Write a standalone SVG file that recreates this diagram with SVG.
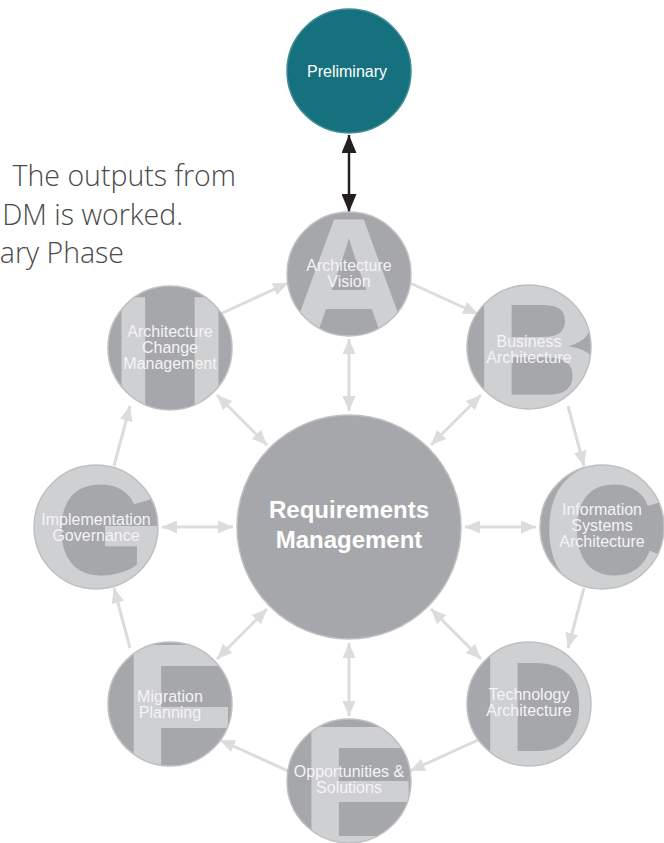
<svg xmlns="http://www.w3.org/2000/svg" width="664" height="843" viewBox="0 0 664 843">
<style>
.bg{fill:#a6a7aa}
.ring{fill:none;stroke:#bfc0c2;stroke-width:1.5}
.big{font-family:"Liberation Sans",Arial,sans-serif;font-weight:bold;fill:#cfd0d2;text-anchor:middle}
.lbl{font-family:"Liberation Sans",Arial,sans-serif;font-size:16px;fill:#f4f4f5;text-anchor:middle}
.rm{font-family:"Liberation Sans",Arial,sans-serif;font-size:24px;font-weight:bold;fill:#ffffff;text-anchor:middle}
.intro{font-family:"Open Sans","Liberation Sans",sans-serif;font-weight:300;font-size:28.5px;fill:#4a4a4a;text-anchor:end}
.con{stroke:#dcdcde;stroke-width:3;fill:none}
</style>
<defs>
<marker id="ah" markerUnits="userSpaceOnUse" markerWidth="15" markerHeight="13" viewBox="0 0 15 13" refX="15" refY="6.5" orient="auto-start-reverse"><path d="M0,0 L15,6.5 L0,13 z" fill="#dcdcde"/></marker>
<marker id="bh" markerUnits="userSpaceOnUse" markerWidth="18" markerHeight="15" viewBox="0 0 18 15" refX="18" refY="7.5" orient="auto-start-reverse"><path d="M0,0 L18,7.5 L0,15 z" fill="#231f20"/></marker>
<clipPath id="cA"><circle cx="349" cy="274" r="62"/></clipPath>
<clipPath id="cB"><circle cx="529" cy="347" r="62"/></clipPath>
<clipPath id="cC"><circle cx="602" cy="527" r="62"/></clipPath>
<clipPath id="cD"><circle cx="529" cy="704" r="62"/></clipPath>
<clipPath id="cE"><circle cx="349" cy="781" r="62"/></clipPath>
<clipPath id="cF"><circle cx="170" cy="704" r="62"/></clipPath>
<clipPath id="cG"><circle cx="96" cy="527" r="62"/></clipPath>
<clipPath id="cH"><circle cx="170" cy="348" r="62"/></clipPath>
</defs>

<g id="intro-text">
<text class="intro" x="236" y="186">The outputs from</text>
<text class="intro" x="183" y="225">DM is worked.</text>
<text class="intro" x="124" y="263">ary Phase</text>
</g>

<g id="connectors">
<line x1="349" y1="153" x2="349" y2="194" stroke="#231f20" stroke-width="2.5"/>
<line x1="349" y1="152" x2="349" y2="135" stroke="#231f20" stroke-width="2.5" marker-end="url(#bh)"/>
<line x1="349" y1="195" x2="349" y2="212" stroke="#231f20" stroke-width="2.5" marker-end="url(#bh)"/>
<line class="con" x1="220" y1="314" x2="288" y2="283" marker-end="url(#ah)"/>
<line class="con" x1="410" y1="283" x2="478" y2="314" marker-end="url(#ah)"/>
<line class="con" x1="568" y1="406" x2="584" y2="466" marker-end="url(#ah)"/>
<line class="con" x1="584" y1="588" x2="568" y2="648" marker-end="url(#ah)"/>
<line class="con" x1="478" y1="740" x2="410" y2="771" marker-end="url(#ah)"/>
<line class="con" x1="288" y1="771" x2="220" y2="740" marker-end="url(#ah)"/>
<line class="con" x1="130" y1="648" x2="114" y2="588" marker-end="url(#ah)"/>
<line class="con" x1="114" y1="466" x2="130" y2="406" marker-end="url(#ah)"/>
<line class="con" x1="349" y1="411" x2="349" y2="339" marker-start="url(#ah)" marker-end="url(#ah)"/>
<line class="con" x1="349" y1="643" x2="349" y2="716" marker-start="url(#ah)" marker-end="url(#ah)"/>
<line class="con" x1="233" y1="527" x2="162" y2="527" marker-start="url(#ah)" marker-end="url(#ah)"/>
<line class="con" x1="465" y1="527" x2="536" y2="527" marker-start="url(#ah)" marker-end="url(#ah)"/>
<line class="con" x1="267" y1="445" x2="217" y2="395" marker-start="url(#ah)" marker-end="url(#ah)"/>
<line class="con" x1="431" y1="445" x2="481" y2="395" marker-start="url(#ah)" marker-end="url(#ah)"/>
<line class="con" x1="431" y1="609" x2="481" y2="659" marker-start="url(#ah)" marker-end="url(#ah)"/>
<line class="con" x1="267" y1="609" x2="217" y2="659" marker-start="url(#ah)" marker-end="url(#ah)"/>
</g>

<g id="node-preliminary">
<circle cx="349" cy="71" r="62" fill="#16717e" stroke="#3f8c97" stroke-width="1.5"/>
<text class="lbl" x="347" y="77" style="fill:#ffffff">Preliminary</text>
</g>

<g id="node-requirements">
<circle cx="349" cy="527" r="112" class="bg"/>
<circle cx="349" cy="527" r="112" class="ring"/>
<text class="rm" x="349" y="518">Requirements</text>
<text class="rm" x="349" y="548">Management</text>
</g>

<g id="node-A">
<g clip-path="url(#cA)"><rect x="287" y="212" width="124" height="124" class="bg"/><text class="big" x="349" y="340" font-size="175">A</text></g>
<circle cx="349" cy="274" r="62" class="ring"/>
<text class="lbl" x="349" y="271">Architecture</text>
<text class="lbl" x="349" y="287">Vision</text>
</g>

<g id="node-B">
<g clip-path="url(#cB)"><rect x="467" y="285" width="124" height="124" class="bg"/><text class="big" x="540" y="415" font-size="190">B</text></g>
<circle cx="529" cy="347" r="62" class="ring"/>
<text class="lbl" x="529" y="347">Business</text>
<text class="lbl" x="529" y="363">Architecture</text>
</g>

<g id="node-C">
<g clip-path="url(#cC)"><rect x="540" y="465" width="124" height="124" class="bg"/><text class="big" x="610" y="595" font-size="190">C</text></g>
<circle cx="602" cy="527" r="62" class="ring"/>
<text class="lbl" x="602" y="515">Information</text>
<text class="lbl" x="602" y="531">Systems</text>
<text class="lbl" x="602" y="547">Architecture</text>
</g>

<g id="node-D">
<g clip-path="url(#cD)"><rect x="467" y="642" width="124" height="124" class="bg"/><text class="big" x="546" y="772" font-size="190">D</text></g>
<circle cx="529" cy="704" r="62" class="ring"/>
<text class="lbl" x="529" y="700">Technology</text>
<text class="lbl" x="529" y="716">Architecture</text>
</g>

<g id="node-E">
<g clip-path="url(#cE)"><rect x="287" y="719" width="124" height="124" class="bg"/><text class="big" x="362" y="857" font-size="190">E</text></g>
<circle cx="349" cy="781" r="62" class="ring"/>
<text class="lbl" x="349" y="777">Opportunities &amp;</text>
<text class="lbl" x="349" y="793">Solutions</text>
</g>

<g id="node-F">
<g clip-path="url(#cF)"><rect x="108" y="642" width="124" height="124" class="bg"/><text class="big" x="179" y="776" font-size="190">F</text></g>
<circle cx="170" cy="704" r="62" class="ring"/>
<text class="lbl" x="170" y="702">Migration</text>
<text class="lbl" x="170" y="718">Planning</text>
</g>

<g id="node-G">
<g clip-path="url(#cG)"><rect x="34" y="465" width="124" height="124" class="bg"/><text class="big" x="100" y="595" font-size="190">G</text></g>
<circle cx="96" cy="527" r="62" class="ring"/>
<text class="lbl" x="96" y="525">Implementation</text>
<text class="lbl" x="96" y="541">Governance</text>
</g>

<g id="node-H">
<g clip-path="url(#cH)"><rect x="108" y="286" width="124" height="124" class="bg"/><text class="big" transform="translate(170,348) scale(1,2.6)" x="0" y="94" font-size="165">H</text></g>
<circle cx="170" cy="348" r="62" class="ring"/>
<text class="lbl" x="170" y="337">Architecture</text>
<text class="lbl" x="170" y="353">Change</text>
<text class="lbl" x="170" y="369">Management</text>
</g>
</svg>
